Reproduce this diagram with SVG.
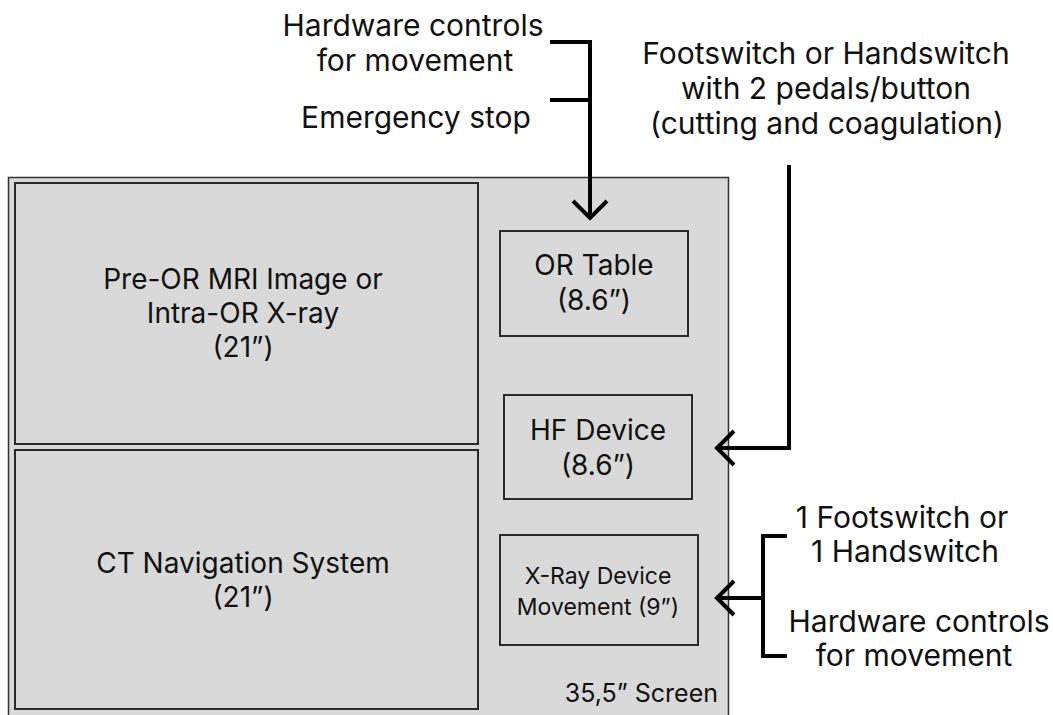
<svg xmlns="http://www.w3.org/2000/svg" width="1053" height="715" viewBox="0 0 1053 715">
<style>
  .box{fill:#d9d9d9;stroke:#2a2a2a;stroke-width:2}
  .outer{fill:#d9d9d9;stroke:#333;stroke-width:1.5}
  .t{font-family:Inter,"Noto Sans",sans-serif;fill:#111;text-anchor:middle}
  .xl{font-size:30px}
  .l{font-size:28px}
  .s{font-size:23px}
  .c{fill:none;stroke:#000;stroke-width:4;stroke-linecap:butt;stroke-linejoin:miter}
</style>
<rect width="1053" height="715" fill="#fff"/>
<g id="screen">
  <rect class="outer" x="8.5" y="177.5" width="720" height="545"/>
  <text class="t" x="718" y="702" style="text-anchor:end;font-size:25px">35,5” Screen</text>
</g>
<g id="preor">
  <rect class="box" x="15" y="183" width="463" height="261"/>
  <text class="t l" x="243" y="289">Pre-OR MRI Image or</text>
  <text class="t l" x="243" y="323">Intra-OR X-ray</text>
  <text class="t l" x="243" y="357">(21”)</text>
</g>
<g id="ct">
  <rect class="box" x="15" y="450" width="463" height="259"/>
  <text class="t l" x="243" y="573">CT Navigation System</text>
  <text class="t l" x="243" y="607">(21”)</text>
</g>
<g id="ortable">
  <rect class="box" x="500" y="231" width="188" height="105"/>
  <text class="t l" x="594" y="275">OR Table</text>
  <text class="t l" x="594" y="310">(8.6”)</text>
</g>
<g id="hf">
  <rect class="box" x="504" y="395" width="188" height="104"/>
  <text class="t l" x="598" y="440">HF Device</text>
  <text class="t l" x="598" y="475">(8.6”)</text>
</g>
<g id="xray">
  <rect class="box" x="500" y="535" width="198" height="110"/>
  <text class="t s" x="598" y="584">X-Ray Device</text>
  <text class="t s" x="598" y="615">Movement (9”)</text>
</g>
<g id="label-ortable">
  <text class="t xl" x="413" y="36">Hardware controls</text>
  <text class="t xl" x="415" y="71">for movement</text>
  <text class="t xl" x="416" y="128">Emergency stop</text>
</g>
<g id="label-hf">
  <text class="t xl" x="826" y="64">Footswitch or Handswitch</text>
  <text class="t xl" x="826" y="99">with 2 pedals/button</text>
  <text class="t xl" x="827" y="134">(cutting and coagulation)</text>
</g>
<g id="label-xray">
  <text class="t xl" x="902" y="528">1 Footswitch or</text>
  <text class="t xl" x="905" y="562">1 Handswitch</text>
  <text class="t xl" x="919" y="632">Hardware controls</text>
  <text class="t xl" x="914" y="666">for movement</text>
</g>
<g id="connectors">
  <path class="c" d="M550 42 H590 V217 M550 100 H590"/>
  <path class="c" d="M573 201 L590 218 L607 201"/>
  <path class="c" d="M789 165 V448 H717"/>
  <path class="c" d="M734 431 L717 448 L734 465"/>
  <path class="c" d="M787 536 H763 V656 H787 M763 598 H717"/>
  <path class="c" d="M734 581 L717 598 L734 615"/>
</g>
</svg>
